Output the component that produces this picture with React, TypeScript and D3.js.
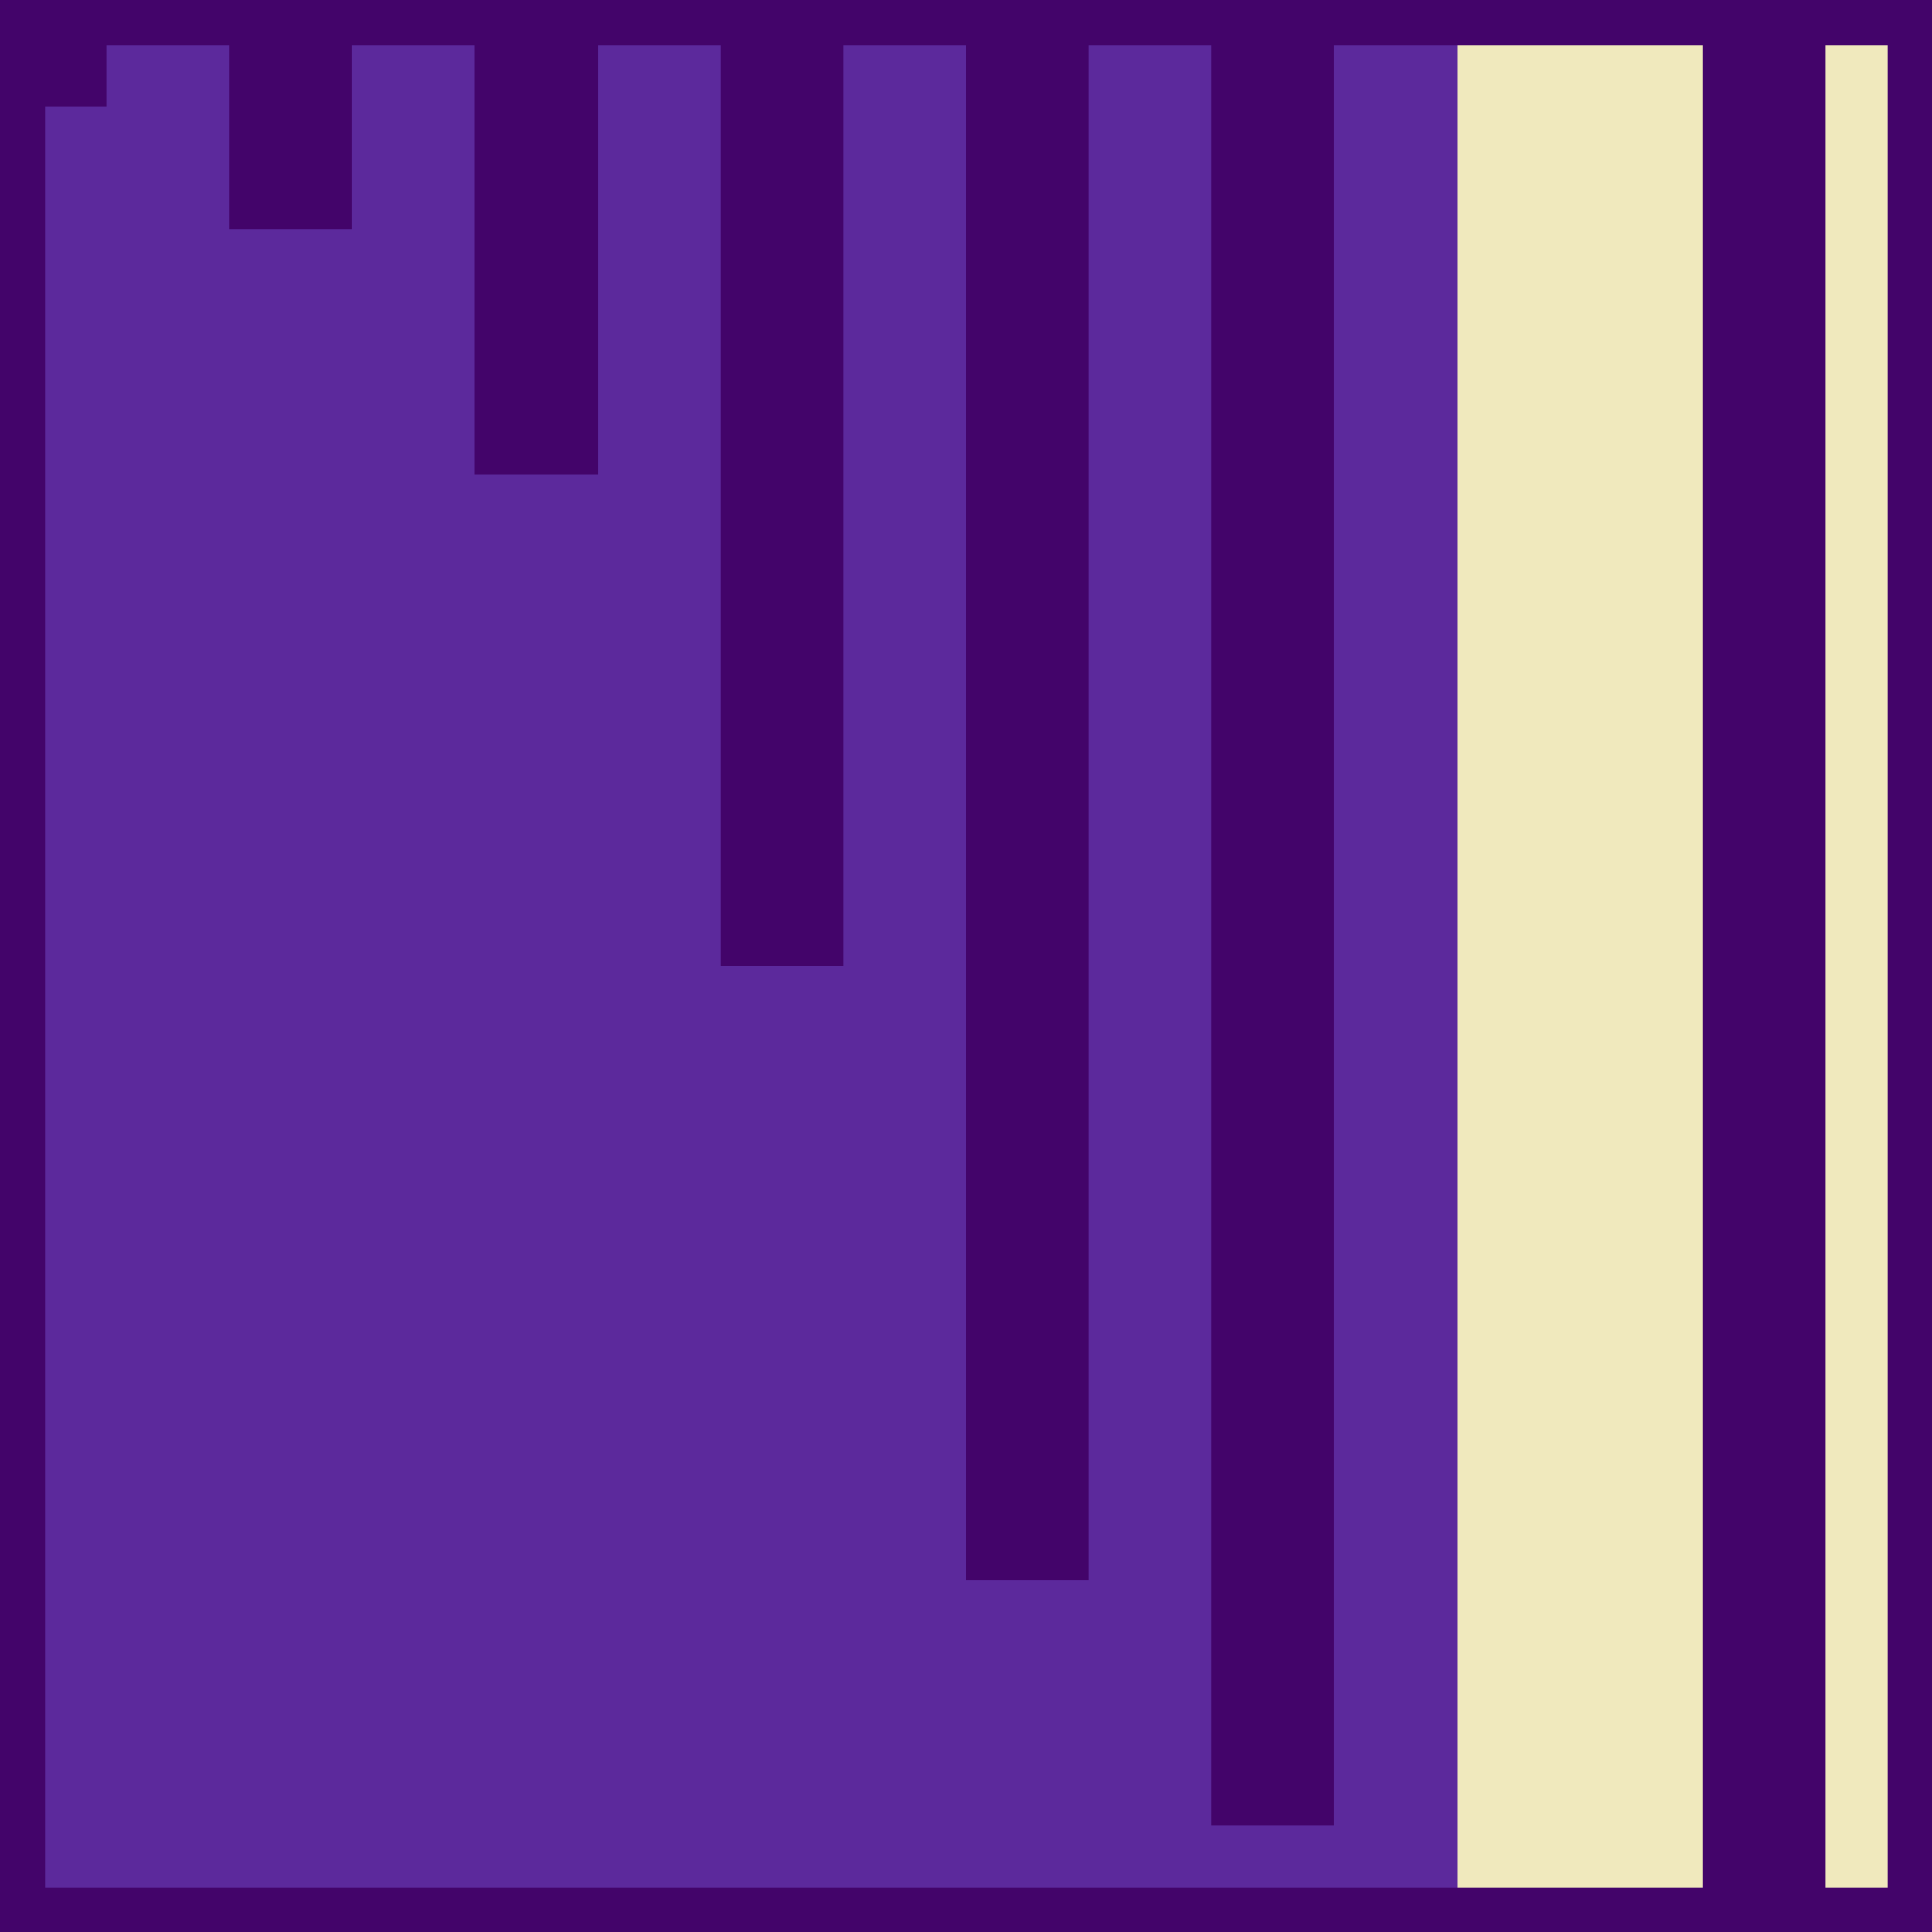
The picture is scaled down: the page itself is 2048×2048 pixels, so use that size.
import React from "react";
import * as d3 from "d3";

const WIDTH = 2048;
const HEIGHT = 2048;
const N = 30;

// per-column base level (0 = low, 1 = mid, 2 = high)
const columnLevel = [
  1, 1, 1, 1, 1, 1, 1, 1, 1, 1,
  1, 1, 1, 1, 1, 1, 1, 1, 1, 1,
  1, 1, 1, 2, 2, 2, 2, 0, 0, 2,
];
// number of low-valued cells at the top of each column
const columnTopLow = [
  1, 0, 0, 3, 3, 0, 0, 7, 7, 0,
  0, 15, 15, 0, 0, 25, 25, 0, 0, 29,
  29, 0, 0, 0, 0, 0, 0, 0, 0, 0,
];
const levelColors = ["#43046a", "#5c299c", "#f0e9bd"];

export default function App() {
  const margin = 48;
  const x = d3.scaleBand<number>().domain(d3.range(N)).range([margin, WIDTH - margin]).padding(0);
  const y = d3.scaleBand<number>().domain(d3.range(N)).range([margin, HEIGHT - margin]).padding(0);
  const color = d3.scaleOrdinal<number, string>().domain([0, 1, 2]).range(levelColors);

  const cells: { c: number; r: number; v: number }[] = [];
  columnLevel.forEach((lvl, c) => {
    for (let r = 0; r < N; r++) {
      cells.push({ c, r, v: r < columnTopLow[c] ? 0 : lvl });
    }
  });

  return (
    <svg
      width={WIDTH}
      height={HEIGHT}
      style={{ position: "absolute", left: 0, top: 0, display: "block" }}
    >
      <rect x={0} y={0} width={WIDTH} height={HEIGHT} fill={levelColors[0]} />
      <g shapeRendering="crispEdges">
        {cells.map((d) => (
          <rect
            key={`${d.c}-${d.r}`}
            x={x(d.c)}
            y={y(d.r)}
            width={x.bandwidth() + 0.5}
            height={y.bandwidth() + 0.5}
            fill={color(d.v)}
          />
        ))}
      </g>
    </svg>
  );
}
